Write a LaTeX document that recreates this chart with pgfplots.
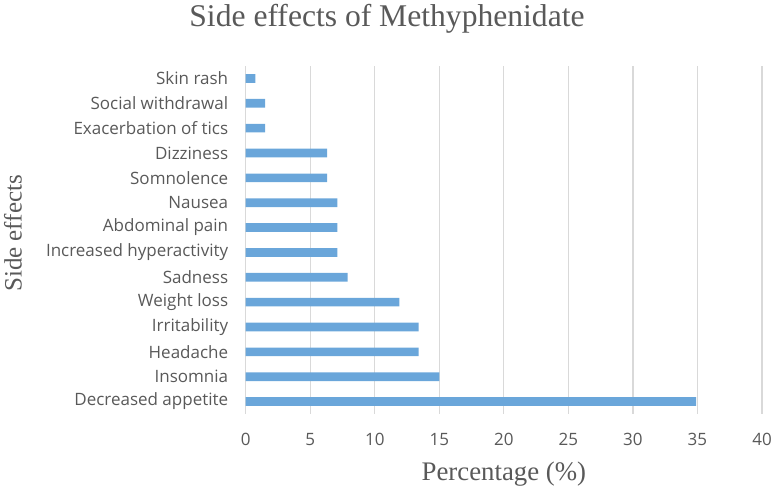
\documentclass[border=0pt]{standalone}
\usepackage{pgfplots}
\pgfplotsset{compat=1.18}
\usepackage{fontspec}
\setmainfont{Liberation Serif}
\newfontfamily\tickfont{Open Sans}
\definecolor{barblue}{HTML}{6AA6DA}
\definecolor{gridgray}{HTML}{D9D9D9}
\definecolor{txtgray}{HTML}{595959}
\begin{document}
\begin{tikzpicture}
\useasboundingbox (0pt,0pt) rectangle (774pt,492pt);
\begin{axis}[
  at={(245.7pt,78pt)}, anchor=south west,
  scale only axis, width=516.3pt, height=348pt,
  xbar, bar width=8.7pt,
  xmin=0, xmax=40, xtick={0,5,...,40},
  ymin=-0.5, ymax=13.5,
  ytick={0,...,13},
  yticklabels={Decreased appetite,Insomnia,Headache,Irritability,Weight loss,Sadness,Increased hyperactivity,Abdominal pain,Nausea,Somnolence,Dizziness,Exacerbation of tics,Social withdrawal,Skin rash},
  axis line style={draw=none},
  major tick length=0pt,
  xmajorgrids, grid style={draw=gridgray, line width=1.2pt},
  /pgf/number format/assume math mode=true,
  ticklabel style={font=\tickfont\fontsize{17}{20}\selectfont, text=txtgray},
  yticklabel style={anchor=east, xshift=-14pt},
  xticklabel style={anchor=base, yshift=-31.5pt},
  title={Side effects of Methyphenidate},
  title style={font=\fontsize{31.6}{36}\selectfont, text=txtgray, at={(axis description cs:0.2737,1.096)}, anchor=base, yshift=0pt},
  xlabel={Percentage (\%)},
  xlabel style={font=\fontsize{26.8}{30}\selectfont, text=txtgray, at={(axis description cs:0.5,-0.19)}, anchor=base},
  ylabel={Side effects},
  ylabel style={font=\fontsize{25}{30}\selectfont, text=txtgray, at={(axis description cs:-0.4507,0.519)}, anchor=center},
]
\addplot[fill=barblue, draw=none] coordinates {
(34.9,0) (15.0,1) (13.4,2) (13.4,3) (11.9,4) (7.9,5) (7.1,6) (7.1,7) (7.1,8) (6.3,9) (6.3,10) (1.5,11) (1.5,12) (0.75,13)
};
\end{axis}
\end{tikzpicture}
\end{document}
